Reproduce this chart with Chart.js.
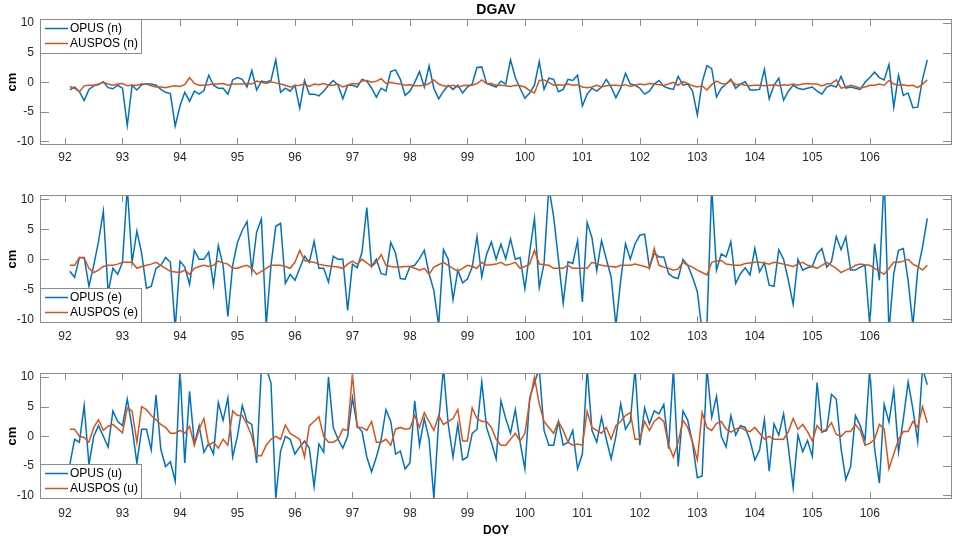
<!DOCTYPE html>
<html>
<head>
<meta charset="utf-8">
<title>DGAV</title>
<script src="https://cdn.jsdelivr.net/npm/chart.js@4.4.1/dist/chart.umd.min.js"></script>
<style>
  html, body { margin: 0; padding: 0; background: #fff; }
  #wrap { position: relative; width: 962px; height: 540px; overflow: hidden; }
  canvas { position: absolute; left: 0; }
</style>
</head>
<body>
<div id="wrap">
  <canvas id="chartN" width="962" height="172" style="top:0"></canvas>
  <canvas id="chartE" width="962" height="178" style="top:175px"></canvas>
  <canvas id="chartU" width="962" height="185" style="top:355px"></canvas>
</div>
<script>
// sampling: one solution every 2 h from DOY 92 + 1/12
const START_DOY = 92;
const STEP = 1 / 12;

const xTicks = [92, 93, 94, 95, 96, 97, 98, 99, 100, 101, 102, 103, 104, 105, 106];
const yTicks = [-10, -5, 0, 5, 10];

// north (cm)
const opusN = [
  -1.3, -0.8, -1.6, -3.1, -1.2, -0.6, -0.4, 0.1, -0.9, -1.1, -0.5, -1.0,
  -7.3, -0.5, -1.3, -0.4, -0.3, -0.3, -0.5, -1.2, -1.7, -1.9, -7.4, -4.0,
  -1.7, -3.2, -1.5, -2.0, -1.4, 1.2, -0.5, -1.0, -1.0, -2.0, 0.4, 0.8,
  0.5, -0.8, 2.0, -1.3, 0.2, 0.0, 0.3, 3.8, -1.7, -1.0, -1.5, -0.5,
  -4.4, 0.3, -2.0, -2.0, -2.3, -1.5, -0.5, 0.3, -0.5, -2.8, -0.5, -0.5,
  -0.8, 0.5, 0.2, -1.0, -2.5, -1.0, -1.5, 1.8, 2.1, 0.5, -2.2, -1.5,
  0.0, 1.8, -0.8, 2.8, -1.0, -2.8, -1.5, -0.5, -1.2, -0.5, -1.8, -0.8,
  -0.3, 2.5, 2.6, -0.2, -0.5, -0.8, 0.2, -0.3, 3.8, 0.8, -1.0, -2.7,
  -1.8, -0.5, 3.5, -1.2, 0.7, 0.5, -1.6, -1.2, 0.5, 0.3, 1.2, -4.0,
  -2.0, -1.0, -1.5, -0.8, 0.5, -0.8, -2.6, -1.0, 1.5, -0.3, -0.5, -1.0,
  -2.0, -1.5, -0.3, 0.3, -0.7, -1.0, -1.2, 1.0, -0.5, -0.3, -1.5, -5.5,
  0.0, 2.8, 2.3, -2.5, -1.0, -0.3, 0.5, -1.0, -0.3, 0.1, -1.3, -1.3,
  -1.2, 2.2, -2.8, -0.5, 0.7, -3.0, -1.5, -0.5, -1.0, -1.2, -1.0, -0.8,
  -1.5, -2.0, -0.8, -0.5, -0.8, 1.0, -1.0, -0.8, -1.0, -1.2, 0.0, 0.8,
  1.7, 0.8, 0.4, 3.0, -4.2, 1.2, -2.2, -1.8, -4.3, -4.2, 0.5, 3.8
];
const auspN = [
  -0.7, -1.0, -1.6, -0.6, -0.5, -0.5, -0.3, 0.0, -0.3, -0.5, -0.3, -0.2,
  -0.6, -0.5, -0.5, -0.3, -0.3, -0.6, -0.8, -0.8, -0.9, -0.7, -0.6, -0.7,
  -0.4, 0.8, -0.2, -0.5, -0.5, -0.4, -0.3, -0.3, -0.2, -0.5, -0.3, -0.3,
  -0.3, -0.2, -0.3, 0.2, 0.0, -0.2, 0.1, -0.1, -0.3, -0.5, -0.8, -0.6,
  -0.5, -0.3, -0.7, -0.3, -0.4, -0.2, -0.5, -0.5, -0.3, -0.8, -0.5, -0.2,
  -0.3, 0.2, 0.3, 0.0, 0.2, 0.6, -0.2, 0.0, -0.2, -0.3, -0.5, -0.4,
  -0.6, -0.6, -0.5, -0.2, 0.4, -0.3, -0.6, -0.7, -0.5, -0.8, -0.6, -0.5,
  -0.5, -0.2, 0.4, -0.2, -0.2, -0.5, -0.5, -0.6, -0.7, -0.5, -0.6, -0.8,
  -1.4, -1.8, 0.3, 0.4, 0.0, -0.5, -0.4, -0.5, -0.3, -0.5, -0.4, -0.8,
  -0.9, -0.8, -0.5, -0.8, -0.6, -0.5, -0.5, -0.6, -0.4, -0.7, -0.5, -0.3,
  -0.4, -0.2, -0.3, -0.4, -0.5, -0.3, 0.0, -0.5, 0.1, -0.2, -0.6, -0.8,
  -0.6, -1.3, -0.4, 0.2, -0.2, -0.3, 0.3, -0.4, -0.3, -0.5, -0.6, -0.5,
  -0.5, -0.6, -0.5, -0.4, -0.6, -0.4, -0.5, -0.3, -0.5, -0.3, -0.2, -0.3,
  -0.3, -0.6, -0.3, -0.2, 0.4, -1.0, -0.8, -0.5, -0.7, -1.0, -0.8, -0.5,
  -0.5, -0.3, -0.5, 0.3, -0.3, -0.5, -0.4, -0.6, -0.5, -0.9, -0.3, 0.4
];

// east (cm)
const opusE = [
  -2.0, -3.0, 0.3, 0.3, -4.5, -1.0, 3.0, 8.0, -5.5, -1.5, -2.5, -0.5,
  12.0, -0.5, 4.7, 1.0, -4.8, -4.5, -1.5, -1.0, 0.3, -0.5, -11.5, -0.3,
  -1.3, -4.2, 1.5, 0.0, 0.0, 1.2, -4.3, 2.3, -1.0, -9.5, -1.0, 2.8,
  4.8, 6.3, -2.0, 4.5, 6.7, -11.0, -1.0, 5.5, 6.0, -4.0, -2.5, -3.5,
  -1.5, 0.5, -0.5, 3.0, -1.5, -1.5, -3.8, 0.5, 0.0, 0.0, -8.5, -0.8,
  -1.4, 1.2, 8.6, -1.2, 0.0, -2.4, -2.6, 2.8, 1.0, -3.2, -3.3, -1.2,
  -1.0, 0.1, 1.5, -2.4, -5.2, -11.0, 1.6, 0.0, -6.7, -1.8, -3.9, -3.3,
  -1.3, 3.8, -2.9, 0.8, 2.9, 0.0, 2.5, 0.1, 3.4, 0.0, 0.3, -4.9,
  1.2, 6.8, -4.7, -0.7, 12.0, 7.1, 0.0, -7.3, -0.4, -0.7, 3.1, -7.1,
  6.1, 3.6, -1.9, 3.1, 0.0, -2.9, -11.0, -3.5, 2.6, 0.0, 2.6, 4.0,
  4.2, -1.4, 1.0, 0.4, 0.4, -2.4, -3.0, -3.2, 0.0, -1.0, -3.0, -5.4,
  -12.0, -11.0, 12.0, -1.8, 0.9, 0.4, 2.9, -4.0, -2.4, -1.4, -2.6, 1.8,
  -2.1, -0.6, -4.3, -4.5, 1.6, 0.0, -3.5, -7.5, 0.0, -1.8, -1.4, -1.2,
  0.9, 1.8, -1.3, -0.4, 3.8, 1.6, 3.7, -1.8, -1.8, -1.3, -1.0, -11.0,
  2.6, -3.5, 14.0, -12.0, -2.4, 1.5, 1.8, -3.5, -11.0, -1.8, 2.0, 6.8
];
const auspE = [
  -1.0, -1.0, 0.3, 0.2, -1.5, -2.2, -1.8, -1.2, -1.0, -1.0, -0.8, -0.5,
  -0.5, -0.5, -1.5, -1.2, -1.0, -0.8, -0.5, -1.0, -1.5, -2.0, -2.1, -2.2,
  -1.8, -2.5, -1.5, -1.2, -1.0, -1.2, -1.0, -0.3, -0.6, -0.8, -1.5, -1.5,
  -1.2, -1.0, -1.5, -2.5, -2.0, -1.5, -1.0, -1.0, -1.0, -1.2, -1.5, -0.5,
  1.5, -0.2, -0.4, -0.5, -0.8, -1.0, -1.1, -1.2, -1.3, -1.5, -0.8, -0.3,
  -0.8, 0.0, -0.6, -1.2, -0.5, 0.8, -1.0, -1.2, -1.3, -1.3, -1.2, -1.2,
  -1.5, -1.8, -1.5, -2.5, -1.3, -0.9, -0.5, -1.0, -1.5, -2.0, -1.5, -1.0,
  -1.2, -1.5, -0.5, -1.0, -0.9, -0.8, -0.5, -1.0, -0.8, -0.5, -1.5, -1.2,
  -0.8, 1.5, -0.8, -0.9, -1.0, -1.5, -1.5, -1.5, -1.0, -1.5, -1.5, -1.5,
  -1.5, -0.5, -0.8, -1.0, -1.1, -1.2, -1.3, -1.0, -1.0, -1.0, -0.8, -1.0,
  -1.2, -1.5, 1.8, -1.0, -1.3, -1.5, -1.8, -1.6, -0.5, -1.0, -1.3, -1.8,
  -2.2, -2.6, -0.5, -0.3, -0.2, -0.8, -0.9, -1.0, -1.0, -0.7, -0.6, -0.5,
  -0.5, -0.6, -0.8, -0.5, -0.6, -0.8, -1.0, -1.2, -0.8, -0.5, -1.0, -1.2,
  -1.5, -1.0, -0.5, -1.0, -1.5, -2.2, -1.8, -1.5, -1.0, -0.8, -0.9, -1.0,
  -1.5, -2.0, -2.5, -1.5, -0.5, -0.5, -0.3, 0.0, -0.8, -1.2, -1.8, -1.0
];

// up (cm)
const opusU = [
  -4.8, -0.5, -1.0, 5.2, -4.8, 0.0, 1.8, 0.0, -1.8, 4.3, 2.5, 1.8,
  6.3, 1.5, -4.5, 1.2, 1.2, -2.3, 7.0, -2.2, -5.1, -4.3, -7.6, 11.5,
  -4.5, 7.6, -1.3, 1.8, -2.7, -1.2, -3.0, 5.7, 2.7, 6.5, -3.5, 0.0,
  5.2, 2.5, 2.0, -4.5, 11.5, 11.5, 9.0, -10.5, -2.5, 0.0, -0.5, -3.0,
  -1.8, -0.8, -2.0, -8.5, -1.3, -2.7, 10.0, 1.5, -0.5, -2.0, 0.0, 6.5,
  1.8, 0.8, -3.5, -6.0, -3.5, -0.5, 4.5, 2.5, -3.0, -2.5, -5.5, -4.5,
  6.0, -1.5, 3.0, -0.5, -10.5, 2.5, 11.5, 2.0, -3.5, 2.0, -4.0, -3.5,
  0.5, 1.2, 9.2, 1.5, -1.0, -3.8, 6.0, 3.0, 0.5, 4.5, -1.0, -5.5,
  6.5, 9.0, 11.5, 1.0, -1.5, -1.5, 2.5, -1.5, -1.0, 1.0, -5.5, -3.0,
  11.5, 1.0, -1.0, 3.2, -0.5, -3.8, 0.0, 5.5, 1.2, 2.5, 11.5, -1.5,
  4.8, 2.1, 4.3, 3.8, 5.4, -2.1, 11.5, -5.1, 4.3, 2.7, -1.2, -7.0,
  -6.7, 11.5, 3.2, 6.8, 0.0, -1.8, 3.5, 0.2, 1.8, 1.5, -0.7, -4.0,
  -2.3, 2.8, -5.9, 2.1, 0.2, 3.8, -1.8, -8.7, 0.2, -2.6, -0.7, -3.4,
  9.1, 0.7, 1.0, 7.1, 6.3, -2.1, -7.3, -5.1, 3.5, 1.8, -0.7, 11.5,
  -2.1, -7.9, 5.4, 2.4, 7.8, -2.6, 2.9, 9.2, 4.6, -0.9, 11.5, 8.7
];
const auspU = [
  1.2, 1.2, 0.0, -0.2, -1.0, 1.5, 2.8, 1.0, 1.7, 2.0, 1.3, 0.6,
  4.8, 4.3, -1.0, 5.0, 4.5, 3.5, 2.8, 2.0, 1.5, 0.5, 0.5, 1.0,
  0.5, 1.7, -1.5, 1.2, 3.0, -1.5, -1.0, -2.0, -0.5, -1.5, 4.3, 3.5,
  3.5, 2.0, 0.0, -3.3, -3.3, -1.5, -0.5, 0.0, -0.5, 1.9, 0.5, 0.0,
  -0.5, -3.5, 1.8, 2.5, 3.3, 0.0, -1.0, -1.0, -0.5, 1.2, 1.0, 10.5,
  1.5, 1.5, 1.0, 2.5, -1.0, -1.0, -0.5, -1.5, 1.2, 1.5, 1.2, 1.3,
  3.5, 1.5, 4.0, 2.5, 1.0, 3.5, 2.0, 2.5, 3.0, 4.5, -0.8, -0.8,
  4.8, 3.0, 2.5, 2.5, 1.5, -0.5, -1.5, -1.5, -0.5, 0.5, -0.8, 0.5,
  6.0, 10.0, 5.5, 2.5, 1.5, 0.5, 2.5, 1.0, -1.0, -1.5, -1.3, -1.5,
  4.2, 1.5, 1.0, 0.5, 1.5, -0.5, 1.8, 2.5, 3.5, 4.0, -0.5, -0.5,
  2.5, 1.0, 2.5, 3.2, 2.5, -1.5, -3.5, -1.0, 2.7, 1.5, -1.0, -4.0,
  4.0, 1.5, 1.0, 2.2, 2.5, 1.2, 0.7, 1.2, 1.5, 1.0, 0.8, 1.5,
  0.5, -0.5, 0.0, -0.5, -0.5, -0.5, 0.8, 3.0, 1.2, 2.0, 0.8, -0.8,
  1.8, 0.8, 1.2, 2.3, 0.3, 0.0, 0.8, 0.8, 2.0, 1.0, -1.5, -1.2,
  -0.5, 2.0, 1.2, -5.5, -3.0, -0.5, 0.8, 0.8, 2.5, 1.5, 5.0, 2.3
];

const doy = opusN.map((_, i) => START_DOY + (i + 1) * STEP);

const BLUE = '#0072BD';
const ORANGE = '#D95319';
const AXIS_COLOR = '#8c8c8c';
const TEXT_COLOR = '#262626';
const FONT = '"Liberation Sans", Arial, Helvetica, sans-serif';
const X_TICK_LEN = 7;
const Y_TICK_LEN = 9;

function toPoints(values) {
    return values.map((v, i) => ({ x: doy[i], y: v }));
}

// box, inward ticks, legend and labels drawn in MATLAB style
const matlabPlugin = {
    id: 'matlab',
    afterDatasetsDraw(chart, args, opts) {
        const { ctx, chartArea: a, scales: { x, y } } = chart;
        ctx.save();
        ctx.strokeStyle = AXIS_COLOR;
        ctx.lineWidth = 1;
        ctx.strokeRect(a.left + 0.5, a.top + 0.5, a.width - 1, a.height - 1);
        ctx.beginPath();
        xTicks.forEach(v => {
            const px = Math.round(x.getPixelForValue(v)) + 0.5;
            ctx.moveTo(px, a.bottom); ctx.lineTo(px, a.bottom - X_TICK_LEN);
            ctx.moveTo(px, a.top); ctx.lineTo(px, a.top + X_TICK_LEN);
        });
        yTicks.forEach(v => {
            const py = Math.round(y.getPixelForValue(v)) + 0.5;
            ctx.moveTo(a.left, py); ctx.lineTo(a.left + Y_TICK_LEN, py);
            ctx.moveTo(a.right, py); ctx.lineTo(a.right - Y_TICK_LEN, py);
        });
        ctx.stroke();

        // legend
        const lw = 102, lh = 35;
        const lx = a.left;
        const ly = opts.legendAt === 'top' ? a.top : a.bottom - lh;
        ctx.fillStyle = '#fff';
        ctx.fillRect(lx, ly, lw, lh);
        ctx.strokeRect(lx + 0.5, ly + 0.5, lw - 1, lh - 1);
        ctx.font = '12px ' + FONT;
        ctx.textBaseline = 'middle';
        ctx.textAlign = 'left';
        chart.data.datasets.forEach((ds, k) => {
            const cy = ly + 9.5 + k * 15;
            ctx.strokeStyle = ds.borderColor;
            ctx.lineWidth = 1.5;
            ctx.beginPath();
            ctx.moveTo(lx + 5, cy); ctx.lineTo(lx + 28, cy);
            ctx.stroke();
            ctx.fillStyle = '#000';
            ctx.fillText(ds.label, lx + 30, cy + 0.5);
        });

        // y label
        ctx.fillStyle = '#000';
        ctx.font = 'bold 13px ' + FONT;
        ctx.textAlign = 'center';
        ctx.translate(12, (a.top + a.bottom) / 2);
        ctx.rotate(-Math.PI / 2);
        ctx.fillText('cm', 0, 0);
        ctx.setTransform(1, 0, 0, 1, 0, 0);

        if (opts.title) {
            ctx.font = 'bold 14px ' + FONT;
            ctx.fillText(opts.title, (a.left + a.right) / 2, 10);
        }
        if (opts.xTitle) {
            ctx.font = 'bold 12px ' + FONT;
            ctx.fillText(opts.xTitle, (a.left + a.right) / 2, chart.height - 9);
        }
        ctx.restore();
    }
};

function makeChart(id, opus, ausp, comp, cfg) {
    return new Chart(document.getElementById(id), {
        type: 'line',
        data: {
            datasets: [
                { label: `OPUS (${comp})`, data: toPoints(opus), borderColor: BLUE, borderWidth: 1.5, pointRadius: 0, order: 1 },
                { label: `AUSPOS (${comp})`, data: toPoints(ausp), borderColor: ORANGE, borderWidth: 1.5, pointRadius: 0, order: 0 }
            ]
        },
        options: {
            responsive: false,
            animation: false,
            devicePixelRatio: 1,
            layout: { padding: { top: cfg.padTop, right: 10, left: 0, bottom: 0 } },
            plugins: {
                legend: { display: false },
                tooltip: { enabled: false },
                matlab: { legendAt: cfg.legendAt, title: cfg.title, xTitle: cfg.xTitle }
            },
            scales: {
                x: {
                    type: 'linear',
                    min: 91.565,
                    max: 107.43,
                    afterBuildTicks: s => { s.ticks = xTicks.map(v => ({ value: v })); },
                    afterFit: s => { s.height = cfg.xHeight; },
                    grid: { display: false, drawTicks: false },
                    border: { display: false },
                    ticks: { padding: cfg.xPad, color: TEXT_COLOR, font: { family: FONT, size: 12 }, maxRotation: 0, autoSkip: false }
                },
                y: {
                    min: -10.6,
                    max: 10.7,
                    afterBuildTicks: s => { s.ticks = yTicks.map(v => ({ value: v })); },
                    afterFit: s => { s.width = 40; },
                    grid: { display: false, drawTicks: false },
                    border: { display: false },
                    ticks: { padding: 6, color: TEXT_COLOR, font: { family: FONT, size: 12 } }
                }
            }
        },
        plugins: [matlabPlugin]
    });
}

makeChart('chartN', opusN, auspN, 'n', { padTop: 19, xHeight: 27, xPad: 5, legendAt: 'top', title: 'DGAV' });
makeChart('chartE', opusE, auspE, 'e', { padTop: 20, xHeight: 30, xPad: 6, legendAt: 'bottom' });
makeChart('chartU', opusU, auspU, 'u', { padTop: 18, xHeight: 41, xPad: 7, legendAt: 'bottom', xTitle: 'DOY' });
</script>
</body>
</html>
